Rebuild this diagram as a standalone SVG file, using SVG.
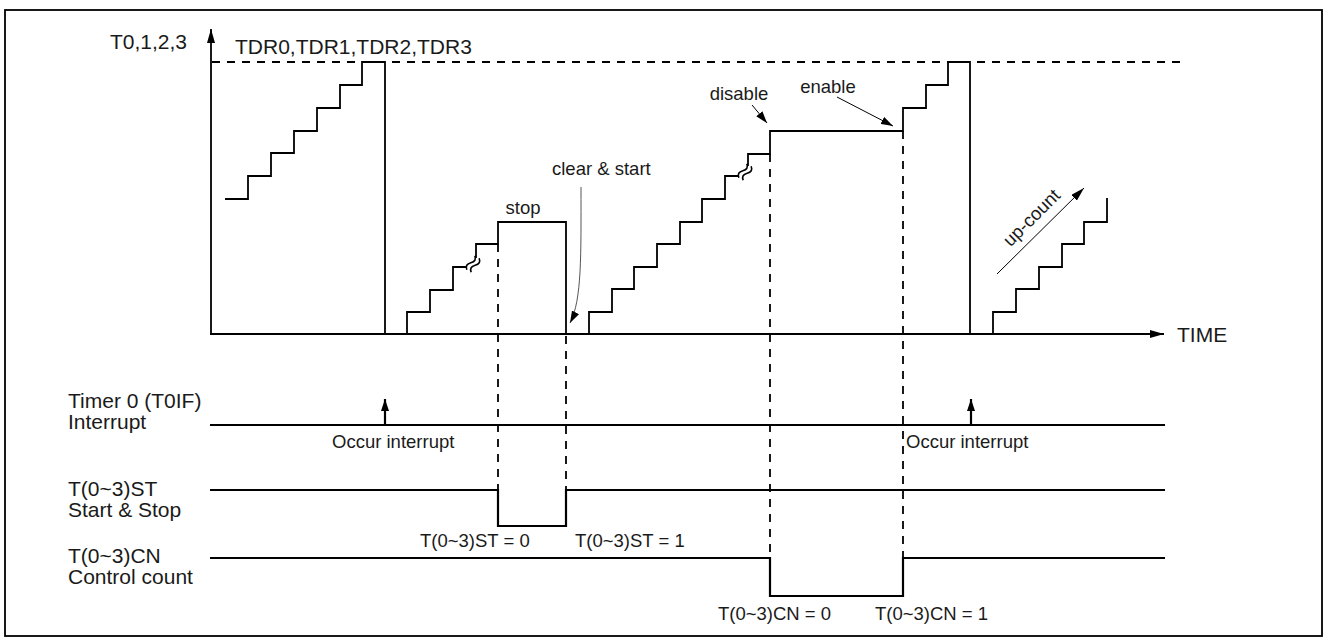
<svg xmlns="http://www.w3.org/2000/svg" width="1326" height="640" viewBox="0 0 1326 640">
<style>
text{font-family:"Liberation Sans",Arial,sans-serif;fill:#1a1a1a}
.big{font-size:21px}
.sm{font-size:18.5px}
.w{fill:none;stroke:#000;stroke-width:1.8;stroke-linejoin:miter;stroke-linecap:butt}
.sig{fill:none;stroke:#000;stroke-width:2.2}
.dash{fill:none;stroke:#000;stroke-width:1.8;stroke-dasharray:8 7}
.thin{fill:none;stroke:#000;stroke-width:1}
.sq{fill:none;stroke:#000;stroke-width:1.6}
</style>
<defs>
<marker id="ah" markerUnits="userSpaceOnUse" markerWidth="14" markerHeight="8" refX="14" refY="4" orient="auto"><path d="M0,0 L14,4 L0,8 z" fill="#000"/></marker>
<marker id="as" markerUnits="userSpaceOnUse" markerWidth="12" markerHeight="8" refX="12" refY="4" orient="auto"><path d="M0,0 L12,4 L0,8 z" fill="#000"/></marker>
</defs>
<rect x="5" y="10" width="1317" height="626" fill="#fff" stroke="#000" stroke-width="1.8"/>

<g id="axes">
<line class="w" x1="211" y1="335" x2="211" y2="29" marker-end="url(#ah)"/>
<line class="w" x1="210" y1="334" x2="1164" y2="334" marker-end="url(#ah)"/>
<line class="dash" x1="212" y1="62" x2="1180" y2="62"/>
<text id="lbl-y" class="big" x="110" y="49">T0,1,2,3</text>
<text id="lbl-tdr" class="big" x="235" y="54">TDR0,TDR1,TDR2,TDR3</text>
<text id="lbl-time" class="big" x="1177" y="342">TIME</text>
</g>

<g id="counter">
<path class="w" d="M225,199 H248 V176 H271 V153 H294 V131 H317 V108 H340 V85 H362 V62 H385 V334"/>
<path class="w" d="M407,334 V312 H430 V290 H453 V267 H476 V244 H498 V222 H566 V334"/>
<path class="w" d="M589,334 V312 H612 V289 H634 V267 H657 V244 H680 V222 H702 V199 H725 V176 H748 V154 H770 V131 H903 V108 H926 V85 H948 V62 H970 V334"/>
<path class="w" d="M993,334 V312 H1016 V289 H1039 V267 H1062 V244 H1084 V222 H1107 V198"/>
</g>

<g id="breaks">
<rect x="466" y="258" width="14" height="12" fill="#fff"/>
<g transform="translate(473,264) rotate(-60)"><path class="sq" d="M-8,-2.5 c2.5,-3 5,-3 8,0 s5.5,3 8,0"/><path class="sq" d="M-8,2.5 c2.5,-3 5,-3 8,0 s5.5,3 8,0"/></g>
<rect x="738" y="166" width="14" height="12" fill="#fff"/>
<g transform="translate(745,172) rotate(-60)"><path class="sq" d="M-8,-2.5 c2.5,-3 5,-3 8,0 s5.5,3 8,0"/><path class="sq" d="M-8,2.5 c2.5,-3 5,-3 8,0 s5.5,3 8,0"/></g>
</g>

<g id="guides">
<line class="dash" x1="498" y1="244" x2="498" y2="490"/>
<line class="dash" x1="566" y1="336" x2="566" y2="490"/>
<line class="dash" x1="770" y1="154" x2="770" y2="558"/>
<line class="dash" x1="903" y1="131" x2="903" y2="558"/>
</g>

<g id="connectors">
<path d="M581,187 C581,255 582,300 570,323" fill="none" stroke="#555" stroke-width="1" marker-end="url(#as)"/>
<line class="thin" x1="752" y1="105" x2="767" y2="123" marker-end="url(#as)"/>
<line class="thin" x1="837" y1="97" x2="893" y2="126" marker-end="url(#as)"/>
<line class="thin" x1="997" y1="274" x2="1084" y2="188" marker-end="url(#ah)"/>
</g>

<g id="annotations">
<text class="sm" x="523" y="214" text-anchor="middle">stop</text>
<text class="sm" x="552" y="175">clear &amp; start</text>
<text class="sm" x="739" y="100" text-anchor="middle">disable</text>
<text class="sm" x="828" y="93" text-anchor="middle">enable</text>
<text class="sm" x="1036" y="222" text-anchor="middle" transform="rotate(-45 1036 222)">up-count</text>
</g>

<g id="sig-interrupt">
<text class="big" x="68" y="408">Timer 0 (T0IF)</text>
<text class="big" x="68" y="429">Interrupt</text>
<line class="sig" x1="210" y1="425" x2="1165" y2="425"/>
<line class="sig" x1="385" y1="425" x2="385" y2="399" marker-end="url(#as)"/>
<line class="sig" x1="971" y1="425" x2="971" y2="399" marker-end="url(#as)"/>
<text class="sm" x="332" y="448">Occur interrupt</text>
<text class="sm" x="906" y="448">Occur interrupt</text>
</g>

<g id="sig-st">
<text class="big" x="68" y="496">T(0~3)ST</text>
<text class="big" x="68" y="517">Start &amp; Stop</text>
<path class="sig" d="M210,490 H498 V526 H566 V490 H1165"/>
<text class="sm" x="420" y="547">T(0~3)ST = 0</text>
<text class="sm" x="575" y="547">T(0~3)ST = 1</text>
</g>

<g id="sig-cn">
<text class="big" x="68" y="563">T(0~3)CN</text>
<text class="big" x="68" y="584">Control count</text>
<path class="sig" d="M210,558 H770 V596 H903 V558 H1165"/>
<text class="sm" x="718" y="620">T(0~3)CN = 0</text>
<text class="sm" x="875" y="620">T(0~3)CN = 1</text>
</g>
</svg>
